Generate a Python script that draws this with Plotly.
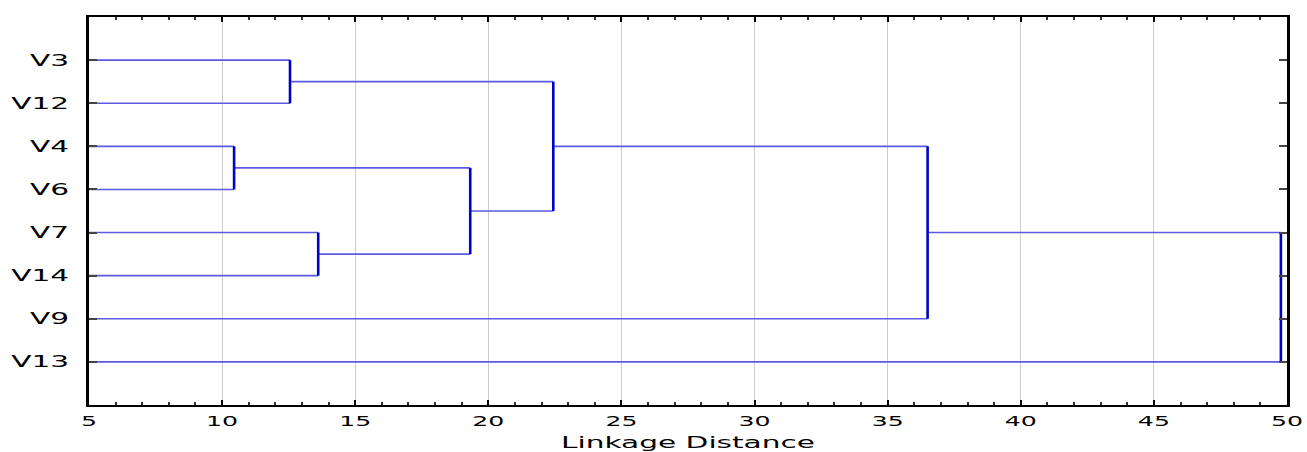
import plotly.graph_objects as go

# ---- data ----
leaves = ["V3", "V12", "V4", "V6", "V7", "V14", "V9", "V13"]
# each merge: (member a, member b, linkage distance); merged clusters named C1..C7 in order
merge_a = ["V3", "V4", "V7", "C2", "C1", "C5", "C6"]
merge_b = ["V12", "V6", "V14", "C3", "C4", "V9", "V13"]
merge_dist = [12.55, 10.45, 13.61, 19.32, 22.44, 36.5, 49.77]
x_ticks = [5, 10, 15, 20, 25, 30, 35, 40, 45, 50]

# ---- build dendrogram segments from the data ----
pos = {name: i + 1 for i, name in enumerate(leaves)}
height = {name: 0.0 for name in leaves}
hx, hy, vx, vy = [], [], [], []
for k, (a, b, d) in enumerate(zip(merge_a, merge_b, merge_dist)):
    for c in (a, b):
        hx += [height[c], d, None]
        hy += [pos[c], pos[c], None]
    vx += [d, d, None]
    vy += [pos[a], pos[b], None]
    name = f"C{k + 1}"
    pos[name] = (pos[a] + pos[b]) / 2
    height[name] = d

fig = go.Figure()
fig.add_trace(go.Scatter(x=hx, y=hy, mode="lines",
                         line=dict(color="#5a5ae2", width=1.6),
                         hoverinfo="skip", showlegend=False))
fig.add_trace(go.Scatter(x=vx, y=vy, mode="lines",
                         line=dict(color="#0000c8", width=2.6),
                         hoverinfo="skip", showlegend=False))

fig.update_layout(
    width=1307, height=452,
    margin=dict(l=89, r=20, t=17, b=47, autoexpand=False),
    paper_bgcolor="white", plot_bgcolor="white",
    xaxis=dict(
        range=[5, 50], tickvals=x_ticks, ticktext=[str(t) for t in x_ticks],
        ticks="inside", ticklen=5, tickwidth=1.5, tickcolor="black",
        minor=dict(dtick=1, ticks="inside", ticklen=3, tickcolor="#333", showgrid=False),
        showgrid=True, gridcolor="#cccccc", gridwidth=1,
        showline=True, linecolor="black", linewidth=2, mirror="allticks",
        zeroline=False, automargin=False,
        tickfont=dict(family="DejaVu Sans", size=14, color="black"),
        ticklabelstandoff=2,
        title=dict(text="Linkage Distance",
                   font=dict(family="DejaVu Sans", size=16, color="black"), standoff=20),
    ),
    yaxis=dict(
        range=[9, 0], tickvals=list(range(1, len(leaves) + 1)), ticktext=leaves,
        ticks="inside", ticklen=8, tickwidth=1.5, tickcolor="#444",
        showgrid=False, zeroline=False, automargin=False,
        showline=True, linecolor="black", linewidth=2.5, mirror="allticks",
        tickfont=dict(family="DejaVu Sans", size=16, color="black"), ticklabelstandoff=14,
    ),
)

# page flush to the window, and widen the lettering like the reference's stretched typeface
post = """
document.body.style.margin = '0';
var gd = document.getElementById('{plot_id}');
function stretch(sel, s) {
  gd.querySelectorAll(sel).forEach(function (t) {
    var x = parseFloat(t.getAttribute('x')) || 0;
    var tr = t.getAttribute('transform') || '';
    t.setAttribute('transform', tr + ' translate(' + x + ',0) scale(' + s + ',1) translate(' + (-x) + ',0)');
  });
}
stretch('.ytick text', 1.85);
stretch('.xtick text', 1.8);
stretch('.xtitle', 1.85);
"""
fig.write_html("out.html", post_script=post, config={"displayModeBar": False})
